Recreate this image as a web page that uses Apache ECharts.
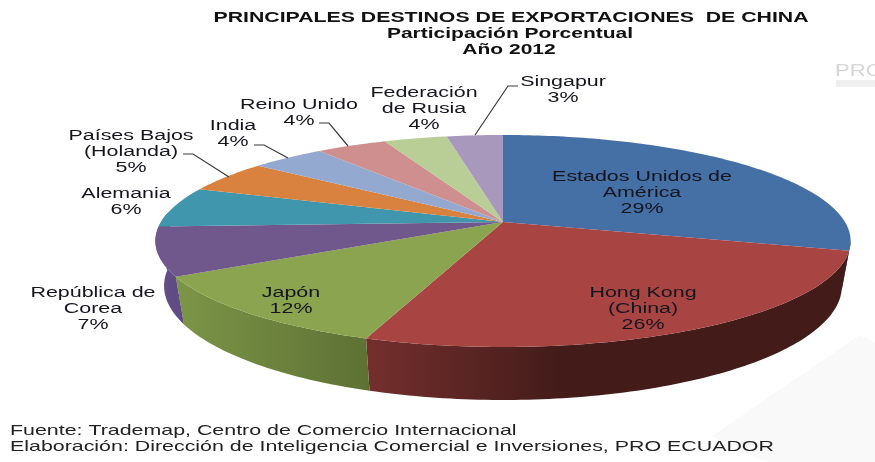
<!DOCTYPE html>
<html>
<head>
<meta charset="utf-8">
<title>Principales destinos de exportaciones de China</title>
<script src="https://cdn.jsdelivr.net/npm/echarts@6/dist/echarts.min.js"></script>
<style>
  html, body { margin: 0; padding: 0; background: #fff; }
  #chart { width: 875px; height: 462px; }
</style>
</head>
<body>
<div id="chart"></div>
<script>
// datos (la etiqueta muestra el valor redondeado)
const names = [
  "Estados Unidos de\nAmérica", "Hong Kong\n(China)", "Japón", "República de\nCorea", "Alemania",
  "Países Bajos\n(Holanda)", "India", "Reino Unido", "Federación\nde Rusia", "Singapur"
];
const shares = [29.3, 26.1, 11.5, 7.4, 6.2, 4.9, 4.1, 3.9, 3.5, 3.1];

const topColors = ["#4470a5", "#a84543", "#8aa44f", "#71588c", "#4097ad", "#d9823f", "#93a9cf", "#ce8f8e", "#b9cd96", "#a898bc"];
const wallColors = [
  ["#2a4566", "#2a4566"], ["#742f2d", "#431c1a"], ["#7c9547", "#5d7134"], ["#64508a", "#5f4a82"], ["#2f7080", "#2f7080"],
  ["#9c5c2c", "#9c5c2c"], ["#6b7b98", "#6b7b98"], ["#966868", "#966868"], ["#87956d", "#87956d"], ["#7a6e89", "#7a6e89"]
];

// posicion de cada etiqueta y sus lineas guia (layout, no datos)
const labelPos = [[642, 193], [643, 309], [291, 301], [93, 309], [126, 202], [131, 152], [233, 134], [299, 113], [424, 109], [563, 90]];
const leaderLines = {
  5: [[183, 154], [193, 154], [229, 177]],
  6: [[254, 145], [264, 145], [288, 158]],
  7: [[319, 123], [329, 123], [348, 146]],
  9: [[518, 86], [508, 86], [475, 135]]
};

// perspectiva del pastel: el circulo se proyecta con el centro desplazado hacia atras
const cx = 503, cy = 222, A = 342, B = 102.6, k = -0.179, depth = 43.5;
const total = shares.reduce((a, b) => a + b, 0);
const startDeg = [];
shares.reduce((acc, v, i) => { startDeg[i] = acc / total * 360; return acc + v; }, 0);

function rim(deg) {
  const t = deg * Math.PI / 180;
  const u = Math.sin(t), v = -Math.cos(t), d = 1 + k * v;
  return [cx + A * u / d, cy + B * v / d, d];
}
function rimBottom(deg) {
  const p = rim(deg);
  return [p[0] - (p[0] - cx) * 0.025, p[1] + depth / p[2]];
}
function arc(a0, a1, fn) {
  const pts = [];
  for (let a = a0; a < a1; a += 1) pts.push(fn(a));
  pts.push(fn(a1));
  return pts;
}

const rows = shares.map((v, i) => [i, v]);

function renderWall(params, api) {
  const i = api.value(0);
  const a0 = Math.max(startDeg[i], 100);
  const a1 = Math.min(startDeg[i] + api.value(1) / total * 360, 275);
  if (a1 <= a0) return null;
  const pts = arc(a0, a1, rim).map(p => [p[0], p[1]]).concat(arc(a0, a1, rimBottom).reverse());
  return {
    type: "polygon",
    shape: { points: pts },
    style: {
      fill: new echarts.graphic.LinearGradient(0, 0, 1, 0, [
        { offset: 0, color: wallColors[i][0] },
        { offset: i === 1 ? 0.4 : 1, color: wallColors[i][1] },
        { offset: 1, color: wallColors[i][1] }
      ])
    }
  };
}

function renderTop(params, api) {
  const i = api.value(0);
  const a0 = startDeg[i];
  const a1 = a0 + api.value(1) / total * 360;
  const pts = [[cx, cy]].concat(arc(a0, a1, rim).map(p => [p[0], p[1]]));
  return { type: "polygon", shape: { points: pts }, style: { fill: topColors[i] } };
}

function renderLabel(params, api) {
  const i = api.value(0);
  const children = [{
    type: "text",
    x: labelPos[i][0],
    y: labelPos[i][1],
    scaleX: 1.53,
    style: {
      text: names[i] + "\n" + Math.round(api.value(1)) + "%",
      font: '14px "Liberation Sans", Arial, sans-serif',
      fill: "#15151f",
      align: "center",
      verticalAlign: "middle",
      lineHeight: 16
    }
  }];
  if (leaderLines[i]) {
    children.push({
      type: "polyline",
      shape: { points: leaderLines[i] },
      style: { fill: "none", stroke: "#3a3a3a", lineWidth: 1.2 }
    });
  }
  return { type: "group", children: children };
}

function makeText(text, x, y, font, scaleX, align, fill) {
  return {
    type: "text", x: x, y: y, scaleX: scaleX, silent: true,
    style: { text: text, font: font, fill: fill, align: align, verticalAlign: "middle" }
  };
}

const titleFont = 'bold 14px "Liberation Sans", Arial, sans-serif';
const footFont = '15px "Liberation Sans", Arial, sans-serif';

const myChart = echarts.init(document.getElementById("chart"), null, { renderer: "canvas" });
myChart.setOption({
  animation: false,
  backgroundColor: "#ffffff",
  graphic: {
    elements: [
      // fondo de la plantilla
      { type: "polygon", z: -10, silent: true, shape: { points: [[860, 335], [875, 342], [875, 462], [765, 462], [712, 436]] }, style: { fill: "#f9f9f9" } },
      { type: "rect", z: -10, silent: true, shape: { x: 836, y: 80, width: 39, height: 7 }, style: { fill: "#efefef" } },
      makeText("PRO", 835, 71, '17px "Liberation Sans", Arial, sans-serif', 1.3, "left", "#d6d6d6"),
      makeText("PRINCIPALES DESTINOS DE EXPORTACIONES  DE CHINA", 511, 18, titleFont, 1.52, "center", "#111"),
      makeText("Participación Porcentual", 510, 34, titleFont, 1.5, "center", "#111"),
      makeText("Año 2012", 509, 50, titleFont, 1.5, "center", "#111"),
      makeText("Fuente: Trademap, Centro de Comercio Internacional", 10, 431, footFont, 1.425, "left", "#222"),
      makeText("Elaboración: Dirección de Inteligencia Comercial e Inversiones, PRO ECUADOR", 10, 447, footFont, 1.425, "left", "#222")
    ]
  },
  series: [
    { type: "custom", coordinateSystem: "none", silent: true, clip: false, data: rows, renderItem: renderWall, z: 2 },
    { type: "custom", coordinateSystem: "none", silent: true, clip: false, data: rows, renderItem: renderTop, z: 3 },
    { type: "custom", coordinateSystem: "none", silent: true, clip: false, data: rows, renderItem: renderLabel, z: 4 }
  ]
});
</script>
</body>
</html>
